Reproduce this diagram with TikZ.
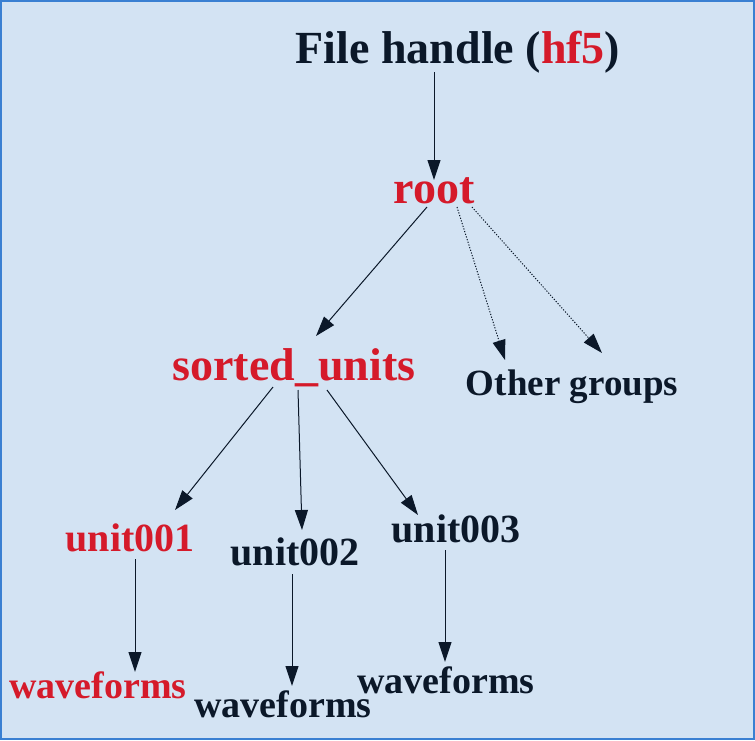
\documentclass[tikz,border=0pt]{standalone}
\usepackage{fontspec}
\setmainfont{Liberation Serif}
\usetikzlibrary{arrows.meta,calc}
\definecolor{bgc}{HTML}{D3E3F3}
\definecolor{brd}{HTML}{3A80D2}
\definecolor{ink}{HTML}{0B1829}
\definecolor{hot}{HTML}{D51A2A}
\tikzset{
  lbl/.style={anchor=base, inner sep=0pt, text=ink, font=\bfseries},
  big/.style={lbl, font=\fontsize{46}{50}\selectfont\bfseries},
  mid/.style={lbl, font=\fontsize{37}{40}\selectfont\bfseries},
  unitlbl/.style={lbl, font=\fontsize{40}{44}\selectfont\bfseries},
  wavelbl/.style={lbl, font=\fontsize{38}{42}\selectfont\bfseries},
  arr/.style={draw=ink, line width=1pt, -{Triangle[length=20pt,width=13pt]}},
  darr/.style={arr, dash pattern=on 1.2pt off 1.6pt},
}
\begin{document}
\begin{tikzpicture}[x=1pt,y=-1pt]
\fill[bgc] (0,0) rectangle (755,740);
\draw[brd, line width=2pt] (1,1) rectangle (754,739);
\useasboundingbox (0,0) rectangle (755,740);

\node[big] (fh) at (458,63) {File handle (\textcolor{hot}{hf5})};
\node[big, text=hot] (root) at (434,203) {root};
\node[big, text=hot] (su) at (294,380) {sorted\_units};
\node[mid] (og) at (572,395) {Other groups};
\node[unitlbl, text=hot] (u1) at (130,551) {unit001};
\node[unitlbl] (u2) at (295,565) {unit002};
\node[unitlbl] (u3) at (456,542) {unit003};
\node[wavelbl, text=hot] (w1) at (98,698) {waveforms};
\node[wavelbl] (w2) at (283,717) {waveforms};
\node[wavelbl] (w3) at (446,693) {waveforms};

\draw[arr] ($(fh.base)+(-24,9)$) -- ($(root.base)+(0,-23)$);
\draw[arr] ($(root.base)+(-7,4)$) -- ($(su.base)+(22,-44)$);
\draw[darr] ($(root.base)+(23,4)$) -- ($(og.base)+(-67,-35)$);
\draw[darr] ($(root.base)+(38,4)$) -- ($(og.base)+(30,-42)$);
\draw[arr] ($(su.base)+(-21,7)$) -- ($(u1.base)+(45,-41)$);
\draw[arr] ($(su.base)+(4,10)$) -- ($(u2.base)+(7,-35)$);
\draw[arr] ($(su.base)+(33,10)$) -- ($(u3.base)+(-38,-27)$);
\draw[arr] ($(u1.base)+(5,8)$) -- ($(w1.base)+(37,-26)$);
\draw[arr] ($(u2.base)+(-3,9)$) -- ($(w2.base)+(9,-31)$);
\draw[arr] ($(u3.base)+(-11,8)$) -- ($(w3.base)+(-1,-31)$);
\end{tikzpicture}
\end{document}
